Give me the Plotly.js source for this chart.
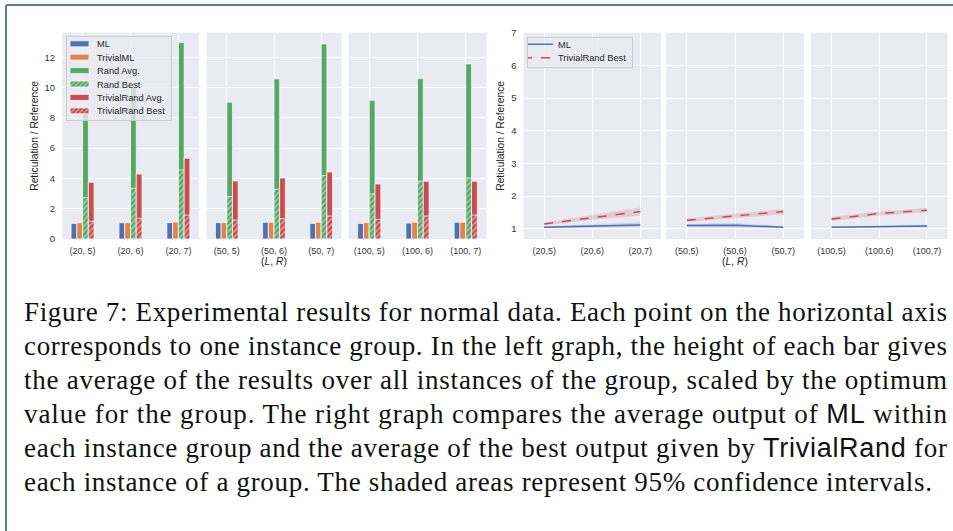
<!DOCTYPE html>
<html>
<head>
<meta charset="utf-8">
<script src="https://cdn.plot.ly/plotly-3.0.1.min.js"></script>
<style>html,body{margin:0;padding:0;background:#fff;}#chart{width:953px;height:531px;}</style>
</head>
<body>
<div id="chart"></div>
<script>
// ---------- data ----------
const barGroups = [
  ['(20, 5)', '(20, 6)', '(20, 7)'],
  ['(50, 5)', '(50, 6)', '(50, 7)'],
  ['(100, 5)', '(100, 6)', '(100, 7)']
];
const lineGroups = [
  ['(20,5)', '(20,6)', '(20,7)'],
  ['(50,5)', '(50,6)', '(50,7)'],
  ['(100,5)', '(100,6)', '(100,7)']
];
// left graph (bars)
const mlBar      = [[1.03, 1.07, 1.08], [1.08, 1.10, 1.03], [1.03, 1.05, 1.10]];
const trivialML  = [[1.07, 1.08, 1.12], [1.08, 1.10, 1.10], [1.08, 1.10, 1.10]];
const randAvg    = [[8.50, 10.10, 12.97], [9.03, 10.57, 12.88], [9.16, 10.59, 11.56]];
const randBest   = [[2.73, 3.35, 4.56], [2.80, 3.28, 4.20], [2.97, 3.81, 4.03]];
const trAvg      = [[3.74, 4.29, 5.33], [3.83, 4.03, 4.42], [3.63, 3.81, 3.81]];
const trBest     = [[1.17, 1.37, 1.58], [1.25, 1.34, 1.52], [1.30, 1.52, 1.58]];
// right graph (lines + 95% CI)
const mlLine = [[1.05, 1.09, 1.12], [1.10, 1.11, 1.05], [1.05, 1.06, 1.09]];
const mlLo   = [[1.03, 1.05, 1.05], [1.06, 1.05, 1.03], [1.03, 1.04, 1.05]];
const mlHi   = [[1.07, 1.13, 1.20], [1.15, 1.18, 1.08], [1.07, 1.08, 1.13]];
const trLine = [[1.15, 1.35, 1.53], [1.26, 1.40, 1.53], [1.30, 1.47, 1.57]];
const trLo   = [[1.11, 1.28, 1.41], [1.21, 1.34, 1.45], [1.24, 1.41, 1.51]];
const trHi   = [[1.19, 1.42, 1.65], [1.32, 1.46, 1.61], [1.36, 1.53, 1.63]];

const captionLines = [
  'Figure 7: Experimental results for normal data. Each point on the horizontal axis',
  'corresponds to one instance group. In the left graph, the height of each bar gives',
  'the average of the results over all instances of the group, scaled by the optimum',
  'value for the group. The right graph compares the average output of <span style="font-family:\'Liberation Sans\'">ML</span> within',
  'each instance group and the average of the best output given by <span style="font-family:\'Liberation Sans\'">TrivialRand</span> for',
  'each instance of a group. The shaded areas represent 95% confidence intervals.'
];

// ---------- styling ----------
const C = {blue: '#4C72B0', orange: '#DD8452', green: '#55A868', red: '#C44E52'};
const BG = '#EAEAF2';
const SANS = 'Liberation Sans, Arial, sans-serif';
const xTickFont = {family: SANS, size: 9, color: '#333'};
const yTickFont = {family: SANS, size: 9.5, color: '#333'};
const titleFont = {family: SANS, size: 10.3, color: '#262626'};

const traces = [];
const barDefs = [
  {name: 'ML', data: mlBar, color: C.blue, off: -0.24},
  {name: 'TrivialML', data: trivialML, color: C.orange, off: -0.12},
  {name: 'Rand Avg.', data: randAvg, color: C.green, off: 0},
  {name: 'Rand Best', data: randBest, color: C.green, off: 0, hatch: true},
  {name: 'TrivialRand Avg.', data: trAvg, color: C.red, off: 0.12},
  {name: 'TrivialRand Best', data: trBest, color: C.red, off: 0.12, hatch: true}
];
for (let p = 0; p < 3; p++) {
  const xa = p === 0 ? 'x' : 'x' + (p + 1);
  const ya = p === 0 ? 'y' : 'y' + (p + 1);
  barDefs.forEach(d => {
    const marker = {color: d.color, line: {color: 'white', width: 0.7}};
    if (d.hatch) marker.pattern = {shape: '/', fillmode: 'overlay', fgcolor: 'white', size: 4, solidity: 0.35};
    traces.push({
      type: 'bar', x: barGroups[p], y: d.data[p], xaxis: xa, yaxis: ya,
      name: d.name, showlegend: p === 0, legend: 'legend',
      width: 0.12, offset: d.off, marker: marker, hoverinfo: 'x+y+name'
    });
  });
}
for (let p = 0; p < 3; p++) {
  const xa = 'x' + (p + 4);
  const ya = 'y' + (p + 4);
  const x = lineGroups[p];
  traces.push({type: 'scatter', mode: 'lines', x: x, y: mlLo[p], xaxis: xa, yaxis: ya, line: {width: 0, color: C.blue}, showlegend: false, hoverinfo: 'skip'});
  traces.push({type: 'scatter', mode: 'lines', x: x, y: mlHi[p], xaxis: xa, yaxis: ya, line: {width: 0, color: C.blue}, fill: 'tonexty', fillcolor: 'rgba(76,114,176,0.2)', showlegend: false, hoverinfo: 'skip'});
  traces.push({type: 'scatter', mode: 'lines', x: x, y: mlLine[p], xaxis: xa, yaxis: ya, name: 'ML', legend: 'legend2', showlegend: p === 0, line: {color: C.blue, width: 1.5}});
  traces.push({type: 'scatter', mode: 'lines', x: x, y: trLo[p], xaxis: xa, yaxis: ya, line: {width: 0, color: C.red}, showlegend: false, hoverinfo: 'skip'});
  traces.push({type: 'scatter', mode: 'lines', x: x, y: trHi[p], xaxis: xa, yaxis: ya, line: {width: 0, color: C.red}, fill: 'tonexty', fillcolor: 'rgba(196,78,82,0.2)', showlegend: false, hoverinfo: 'skip'});
  traces.push({type: 'scatter', mode: 'lines', x: x, y: trLine[p], xaxis: xa, yaxis: ya, name: 'TrivialRand Best', legend: 'legend2', showlegend: p === 0, line: {color: C.red, width: 1.5, dash: 'dash'}});
}

const W = 953, H = 531;
const px = v => v / W;
const py = v => (H - v) / H;
const yDom = [py(239), py(32.7)];
const xDoms = [[62, 199], [206.5, 341.5], [348.5, 486.5], [523.5, 661], [666, 804], [811, 947.5]];

const legendStyle = {
  xanchor: 'left', yanchor: 'top', traceorder: 'normal',
  bgcolor: 'rgba(234,234,242,0.8)', bordercolor: '#cccccc', borderwidth: 1,
  font: {family: SANS, size: 9.3, color: '#262626'}, tracegroupgap: 0
};
const layout = {
  width: W, height: H, margin: {l: 0, r: 0, t: 0, b: 0},
  paper_bgcolor: 'white', plot_bgcolor: BG,
  barmode: 'overlay', showlegend: true,
  font: {family: SANS, color: '#262626'},
  legend: Object.assign({x: px(66), y: py(36)}, legendStyle),
  legend2: Object.assign({x: px(527), y: py(36.5)}, legendStyle),
  shapes: [
    {type: 'line', xref: 'paper', yref: 'paper', x0: px(6), x1: 1, y0: py(5), y1: py(5), line: {color: '#5b7ea8', width: 2}},
    {type: 'line', xref: 'paper', yref: 'paper', x0: px(6), x1: px(6), y0: py(5), y1: 0, line: {color: '#5b7ea8', width: 2}}
  ],
  annotations: []
};

for (let i = 0; i < 6; i++) {
  const n = i === 0 ? '' : String(i + 1);
  const left = i < 3;
  const xa = {
    domain: [px(xDoms[i][0]), px(xDoms[i][1])], anchor: 'y' + n,
    type: 'category', range: [-0.43, 2.43], showgrid: true, gridcolor: 'white', gridwidth: 1,
    zeroline: false, showline: false, ticks: '', tickfont: xTickFont, ticklabelstandoff: 5, fixedrange: true
  };
  if (i === 1 || i === 4) {
    xa.title = {text: '(<i>L</i>, <i>R</i>)', font: titleFont, standoff: i === 1 ? 0 : 2};
  }
  const ya = {
    domain: yDom, anchor: 'x' + n, showgrid: true, gridcolor: 'white', gridwidth: 1,
    zeroline: false, showline: false, ticks: '', tickfont: yTickFont, ticklabelstandoff: 6, fixedrange: true
  };
  if (left) {
    ya.range = [0, 13.62]; ya.tickvals = [0, 2, 4, 6, 8, 10, 12];
  } else {
    ya.range = [0.69, 7]; ya.tickvals = [1, 2, 3, 4, 5, 6, 7];
  }
  if (i !== 0 && i !== 3) {
    ya.showticklabels = false;
    ya.matches = left ? 'y' : 'y4';
  } else {
    ya.title = {text: 'Reticulation / Reference', font: titleFont, standoff: left ? 3 : 4};
  }
  layout['xaxis' + n] = xa;
  layout['yaxis' + n] = ya;
}

const lineY = [312, 346, 380, 414, 448, 482];
const lineRight = [945, 945, 945, 945, 945, 930];
captionLines.forEach((t, i) => {
  layout.annotations.push({
    xref: 'paper', yref: 'paper', x: px(22), y: py(lineY[i]), xanchor: 'left', yanchor: 'middle',
    text: t, showarrow: false, align: 'left',
    font: {family: 'Liberation Serif, Times New Roman, serif', size: 27, color: '#111'}
  });
});

Plotly.newPlot('chart', traces, layout, {staticPlot: true, displayModeBar: false}).then(gd => {
  // justify caption lines like the typeset original
  const texts = gd.querySelectorAll('.annotation-text');
  texts.forEach((el, i) => {
    if (i < lineRight.length) {
      el.setAttribute('textLength', String(lineRight[i] - 22));
      el.setAttribute('lengthAdjust', 'spacing');
    }
  });
  // compact legend rows (matplotlib-like spacing)
  const ROW = 13.4, FIRST = 7.8, PADB = 9, SHIFTX = 10;
  gd.querySelectorAll('g.legend, g.legend2').forEach(lg => {
    const base = lg.getCTM().f;
    const items = Array.from(lg.querySelectorAll('g.traces'))
      .map(it => ({el: it, y: it.getCTM().f - base}))
      .sort((a, b) => a.y - b.y);
    if (!items.length) return;
    let last = FIRST;
    items.forEach((o, k) => {
      const target = FIRST + k * ROW;
      const shift = target - o.y;
      const m = /translate\(\s*([-\d.e]+)[ ,]+([-\d.e]+)\s*\)/.exec(o.el.getAttribute('transform') || '');
      if (m) o.el.setAttribute('transform', 'translate(' + (parseFloat(m[1]) - SHIFTX) + ',' + (parseFloat(m[2]) + shift) + ')');
      last = target;
    });
    // wide, flat bar swatches like matplotlib's legend patches
    lg.querySelectorAll('g.legendpoints path').forEach(p => {
      if ((p.getAttribute('class') || '').indexOf('legendbar') >= 0 || /^M6,6H-6V-6H6Z$/.test(p.getAttribute('d') || '')) {
        p.setAttribute('d', 'M12,3H-7V-3H12Z');
      }
    });
    const bg = lg.querySelector('rect.bg');
    if (bg) {
      bg.setAttribute('height', String(last + PADB));
      bg.setAttribute('width', String(parseFloat(bg.getAttribute('width')) - SHIFTX));
    }
  });
});
</script>
</body>
</html>
